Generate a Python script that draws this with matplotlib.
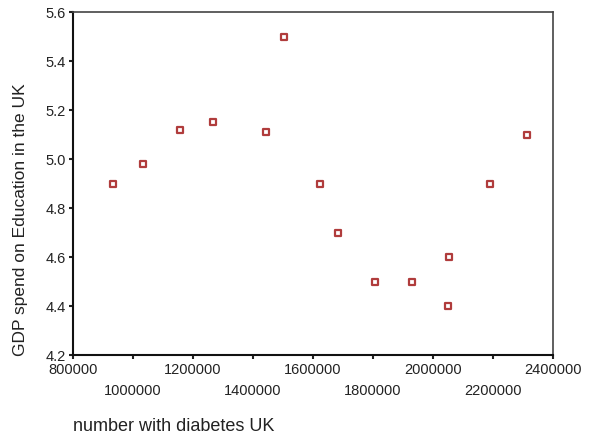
import matplotlib.pyplot as plt

plt.rcParams['font.family'] = ['Liberation Sans', 'DejaVu Sans']

# data
diabetes = [933000, 1033000, 1157000, 1267000, 1443000, 1503000, 1623000,
            1683000, 1807000, 1930000, 2053000, 2050000, 2190000, 2313000]
gdp_edu = [4.90, 4.98, 5.12, 5.15, 5.11, 5.50, 4.90,
           4.70, 4.50, 4.50, 4.60, 4.40, 4.90, 5.10]

xticks_major = [800000, 1200000, 1600000, 2000000, 2400000]
xticks_minor = [1000000, 1400000, 1800000, 2200000]
yticks = [4.2, 4.4, 4.6, 4.8, 5.0, 5.2, 5.4, 5.6]

fig = plt.figure(figsize=(5.92, 4.43), dpi=100)
ax = fig.add_axes([0.1233, 0.1986, 0.8107, 0.7743])

ax.scatter(diabetes, gdp_edu, marker='s', s=20, facecolor='white',
           edgecolor='#b03c3c', linewidths=1.6, zorder=3)

ax.set_xlim(800000, 2400000)
ax.set_ylim(4.2, 5.6)

ax.set_xticks(xticks_major)
ax.set_xticklabels([str(v) for v in xticks_major])
ax.set_xticks(xticks_minor, minor=True)
ax.set_xticklabels([str(v) for v in xticks_minor], minor=True)
ax.set_yticks(yticks)
ax.set_yticklabels(['%.1f' % v for v in yticks])

ax.tick_params(axis='x', which='major', length=3, width=1.5, pad=3,
               labelsize=10.5, colors='#222222')
ax.tick_params(axis='x', which='minor', length=3, width=1.5, pad=18,
               labelsize=10.5, colors='#222222')
ax.tick_params(axis='y', length=3, width=1.5, pad=2, labelsize=10.5,
               colors='#222222')

for side in ['left', 'bottom']:
    ax.spines[side].set_linewidth(1.5)
    ax.spines[side].set_color('#111111')
for side in ['top', 'right']:
    ax.spines[side].set_linewidth(1.2)
    ax.spines[side].set_color('#444444')

ax.set_ylabel('GDP spend on Education in the UK', fontsize=12.5,
              color='#222222')
ax.yaxis.set_label_coords(-0.094, 0.394)
fig.text(0.1233, 0.018, 'number with diabetes UK', fontsize=13,
         color='#222222', ha='left', va='bottom')

fig.savefig('out.png', dpi=100)
